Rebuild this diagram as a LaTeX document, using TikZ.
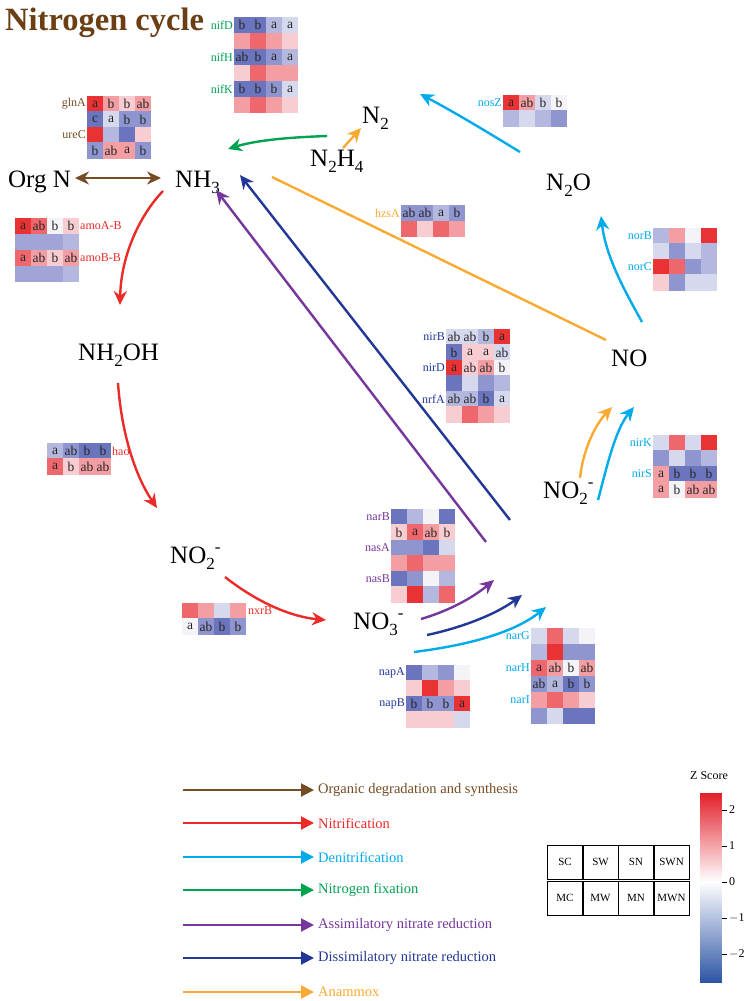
\documentclass[tikz,border=0pt]{standalone}
\usepackage{fontspec}
\setmainfont{Liberation Serif}
\usetikzlibrary{arrows.meta}
\definecolor{cBrown}{RGB}{117,76,36}
\definecolor{cTitle}{RGB}{107,62,20}
\definecolor{cRed}{RGB}{236,42,40}
\definecolor{cCyan}{RGB}{0,171,236}
\definecolor{cGreen}{RGB}{0,163,80}
\definecolor{cPurple}{RGB}{117,55,155}
\definecolor{cNavy}{RGB}{35,55,150}
\definecolor{cOrange}{RGB}{250,170,50}
\definecolor{hRa}{RGB}{233,50,52}
\definecolor{hRb}{RGB}{238,103,108}
\definecolor{hRc}{RGB}{243,158,163}
\definecolor{hRd}{RGB}{248,205,210}
\definecolor{hW}{RGB}{244,243,248}
\definecolor{hBd}{RGB}{214,216,237}
\definecolor{hBc}{RGB}{180,184,222}
\definecolor{hBb}{RGB}{143,149,207}
\definecolor{hBa}{RGB}{106,117,190}
\definecolor{hL}{RGB}{160,164,214}
\definecolor{cbRed}{RGB}{226,30,40}
\definecolor{cbBlue}{RGB}{45,85,165}
\newcommand\subx[1]{\raisebox{-0.25em}{\fontsize{17}{17}\selectfont #1}}
\newcommand\supx[1]{\raisebox{0.42em}{\fontsize{17}{17}\selectfont #1}}
\newcommand\hmrow[4]{\foreach \hmc/\hmt [count=\i] in {#4}{\node[cellbox,fill=\hmc] (#1\i) at ({#2+(\i-0.5)*16},{#3+8}) {\hmt};}}
\tikzset{
  cellbox/.style={inner sep=0pt, minimum width=16.4pt, minimum height=16.4pt, font=\fontsize{13.5}{13.5}\selectfont, text=black!85},
  genelab/.style={font=\fontsize{12}{12}\selectfont, inner sep=1pt},
  chem/.style={font=\fontsize{25}{27}\selectfont, inner sep=0pt, anchor=base west},
  flow/.style={line width=2.4pt, -{Stealth[length=14pt,width=13pt]}},
  legarrow/.style={line width=2pt, -{Triangle[length=13pt,width=13pt]}},
  legtext/.style={font=\fontsize{14.5}{15}\selectfont, inner sep=0pt, anchor=west},
  gridcell/.style={draw=black, line width=0.6pt, minimum width=35pt, minimum height=34pt, inner sep=0pt, font=\fontsize{11}{11}\selectfont},
}
\begin{document}
\begin{tikzpicture}[x=1pt,y=-1pt]
\useasboundingbox (0,0) rectangle (752,1001);
\fill[white] (0,0) rectangle (752,1001);

% title
\node[anchor=base west, inner sep=0pt, text=cTitle, font=\fontsize{32.5}{34}\selectfont\bfseries] (title) at (5,30) {Nitrogen cycle};

% compounds
\node[chem] (orgn) at (8,187) {Org N};
\node[chem] (nh3) at (175,187) {NH\subx{3}};
\node[chem] (n2) at (362,123) {N\subx{2}};
\node[chem] (n2h4) at (310,166) {N\subx{2}H\subx{4}};
\node[chem] (n2o) at (546,190) {N\subx{2}O};
\node[chem] (nh2oh) at (78,360) {NH\subx{2}OH};
\node[chem] (no) at (611,366) {NO};
\node[chem] (no2l) at (170,563) {NO\subx{2}\supx{-}};
\node[chem] (no3) at (353,629) {NO\subx{3}\supx{-}};
\node[chem] (no2r) at (543,498) {NO\subx{2}\supx{-}};

% connector end points
\coordinate (bA) at (75,178);   \coordinate (bB) at (161,178);
\coordinate (gA) at (327,136);  \coordinate (gB) at (228,149);
\coordinate (oA) at (343,148);  \coordinate (oB) at (361,128);
\coordinate (oC) at (272,177);  \coordinate (oD) at (606,340);
\coordinate (dA) at (510,520);  \coordinate (dB) at (240,175);
\coordinate (pA) at (486,542);  \coordinate (pB) at (216,190);
\coordinate (rA) at (163,191);  \coordinate (rB) at (120,305);
\coordinate (rC) at (118,383);  \coordinate (rD) at (157,508);
\coordinate (rE) at (225,577);  \coordinate (rF) at (326,620);
\coordinate (tA) at (421,619);  \coordinate (tB) at (494,580);
\coordinate (uA) at (427,635);  \coordinate (uB) at (522,595);
\coordinate (vA) at (414,652);  \coordinate (vB) at (546,607);
\coordinate (wA) at (580,478);  \coordinate (wB) at (612,407);
\coordinate (xA) at (598,500);  \coordinate (xB) at (634,407);
\coordinate (yA) at (642,322);  \coordinate (yB) at (601,216);
\coordinate (zA) at (520,152);  \coordinate (zB) at (420,94);

% connectors
\draw[cBrown, line width=2.4pt, {Stealth[length=14pt,width=13pt]}-{Stealth[length=14pt,width=13pt]}] (bA) -- (bB);
\draw[flow, cGreen] (gA) .. controls (300,137) and (260,139) .. (gB);
\draw[flow, cOrange] (oA) -- (oB);
\draw[cOrange, line width=2.4pt] (oC) -- (oD);
\draw[flow, cNavy] (dA) -- (dB);
\draw[flow, cPurple] (pA) -- (pB);
\draw[flow, cRed] (rA) .. controls (140,215) and (121,255) .. (rB);
\draw[flow, cRed] (rC) .. controls (122,440) and (138,480) .. (rD);
\draw[flow, cRed] (rE) .. controls (258,603) and (292,617) .. (rF);
\draw[flow, cPurple] (tA) .. controls (445,612) and (470,600) .. (tB);
\draw[flow, cNavy] (uA) .. controls (460,628) and (495,615) .. (uB);
\draw[flow, cCyan] (vA) .. controls (470,645) and (515,632) .. (vB);
\draw[flow, cOrange] (wA) .. controls (583,450) and (595,425) .. (wB);
\draw[flow, cCyan] (xA) .. controls (606,470) and (615,430) .. (xB);
\draw[flow, cCyan] (yA) .. controls (626,293) and (606,258) .. (yB);
\draw[flow, cCyan] (zA) .. controls (497,138) and (458,114) .. (zB);

% heatmaps
% nif
\hmrow{nifa}{234}{17}{hBa/b,hBa/b,hBc/a,hBd/a}
\hmrow{nifb}{234}{33}{hRc/{},hRb/{},hRc/{},hRd/{}}
\hmrow{nifc}{234}{49}{hBa/ab,hBa/b,hBb/a,hBc/a}
\hmrow{nifd}{234}{65}{hRd/{},hRb/{},hRc/{},hRc/{}}
\hmrow{nife}{234}{81}{hBa/b,hBa/b,hBb/b,hBd/a}
\hmrow{niff}{234}{97}{hRc/{},hRb/{},hRc/{},hRd/{}}
\node[genelab, anchor=east, text=cGreen] (lnifD) at (234,25) {nifD};
\node[genelab, anchor=east, text=cGreen] (lnifH) at (234,57) {nifH};
\node[genelab, anchor=east, text=cGreen] (lnifK) at (234,89) {nifK};
% glnA ureC
\hmrow{glna}{87}{96}{hRa/a,hRc/b,hRd/b,hRc/ab}
\hmrow{glnb}{87}{111.5}{hBa/c,hBd/a,hBb/b,hBb/b}
\hmrow{glnc}{87}{127}{hRa/{},hBc/{},hBa/{},hRd/{}}
\hmrow{glnd}{87}{142.5}{hBb/b,hRc/ab,hRc/a,hBb/b}
\node[genelab, anchor=east, text=cBrown] (lglnA) at (87,104) {glnA};
\node[genelab, anchor=east, text=cBrown] (lureC) at (87,135) {ureC};
% amo
\hmrow{amoa}{15}{218}{hRa/a,hRb/ab,hW/b,hRd/b}
\hmrow{amob}{15}{234}{hL/{},hL/{},hL/{},hBc/{}}
\hmrow{amoc}{15}{250}{hRb/a,hRc/ab,hRd/b,hRc/ab}
\hmrow{amod}{15}{266}{hL/{},hL/{},hL/{},hBc/{}}
\node[genelab, anchor=west, text=cRed] (lamoA) at (79,226) {amoA-B};
\node[genelab, anchor=west, text=cRed] (lamoB) at (79,258) {amoB-B};
% hao
\hmrow{haoa}{47}{443}{hBc/a,hBb/ab,hBa/b,hBa/b}
\hmrow{haob}{47}{458.5}{hRb/a,hRd/b,hRc/ab,hRc/ab}
\node[genelab, anchor=west, text=cRed] (lhao) at (111,451) {hao};
% nosZ
\hmrow{nosa}{503}{95}{hRa/a,hRc/ab,hBd/b,hW/b}
\hmrow{nosb}{503}{110.5}{hBc/{},hBd/{},hBc/{},hBb/{}}
\node[genelab, anchor=east, text=cCyan] (lnosZ) at (503,103) {nosZ};
% hzsA
\hmrow{hzsa}{401}{205}{hBb/ab,hBb/ab,hBc/a,hBb/b}
\hmrow{hzsb}{401}{221}{hRb/{},hRd/{},hRb/{},hRc/{}}
\node[genelab, anchor=east, text=cOrange] (lhzsA) at (401,213) {hzsA};
% nor
\hmrow{nora}{653}{228}{hBc/{},hRc/{},hW/{},hRa/{}}
\hmrow{norb}{653}{243.5}{hBd/{},hBb/{},hBd/{},hBc/{}}
\hmrow{norc}{653}{259}{hRa/{},hRb/{},hBb/{},hBc/{}}
\hmrow{nord}{653}{274.5}{hRd/{},hBb/{},hBd/{},hBd/{}}
\node[genelab, anchor=east, text=cCyan] (lnorB) at (653,236) {norB};
\node[genelab, anchor=east, text=cCyan] (lnorC) at (653,267) {norC};
% nirB nirD nrfA
\hmrow{nira}{446}{329}{hBd/ab,hBd/ab,hBc/b,hRa/a}
\hmrow{nirb}{446}{344.5}{hBa/b,hRd/a,hRd/a,hBd/ab}
\hmrow{nirc}{446}{360}{hRa/a,hRd/ab,hRc/ab,hW/b}
\hmrow{nird}{446}{375.5}{hBa/{},hBd/{},hBb/{},hBc/{}}
\hmrow{nire}{446}{391}{hBc/ab,hBc/ab,hBa/b,hBd/a}
\hmrow{nirf}{446}{406.5}{hRd/{},hRb/{},hRc/{},hRd/{}}
\node[genelab, anchor=east, text=cNavy] (lnirB) at (446,337) {nirB};
\node[genelab, anchor=east, text=cNavy] (lnirD) at (446,368) {nirD};
\node[genelab, anchor=east, text=cNavy] (lnrfA) at (446,399) {nrfA};
% nirK nirS
\hmrow{nrka}{653}{435}{hBd/{},hRb/{},hBd/{},hRa/{}}
\hmrow{nrkb}{653}{450.5}{hBb/{},hBd/{},hBb/{},hBc/{}}
\hmrow{nrkc}{653}{466}{hRc/a,hBa/b,hBa/b,hBa/b}
\hmrow{nrkd}{653}{481.5}{hRc/a,hW/b,hRc/ab,hRc/ab}
\node[genelab, anchor=east, text=cCyan] (lnirK) at (653,443) {nirK};
\node[genelab, anchor=east, text=cCyan] (lnirS) at (653,474) {nirS};
% narB nasA nasB
\hmrow{nasa}{391}{509}{hBa/{},hBc/{},hW/{},hBa/{}}
\hmrow{nasb}{391}{524.5}{hRd/b,hRb/a,hRc/ab,hRd/b}
\hmrow{nasc}{391}{540}{hBb/{},hBb/{},hBa/{},hBd/{}}
\hmrow{nasd}{391}{555.5}{hRc/{},hRb/{},hRc/{},hRc/{}}
\hmrow{nase}{391}{571}{hBa/{},hBb/{},hW/{},hBc/{}}
\hmrow{nasf}{391}{586.5}{hRd/{},hRa/{},hBc/{},hRb/{}}
\node[genelab, anchor=east, text=cPurple] (lnarB) at (391,517) {narB};
\node[genelab, anchor=east, text=cPurple] (lnasA) at (391,548) {nasA};
\node[genelab, anchor=east, text=cPurple] (lnasB) at (391,579) {nasB};
% nxrB
\hmrow{nxra}{182}{603}{hRb/{},hRc/{},hBd/{},hRc/{}}
\hmrow{nxrb}{182}{618.5}{hW/a,hBb/ab,hBa/b,hBb/b}
\node[genelab, anchor=west, text=cRed] (lnxrB) at (247,611) {nxrB};
% napA napB
\hmrow{napa}{406}{665}{hBa/{},hBc/{},hBb/{},hW/{}}
\hmrow{napb}{406}{680.5}{hRd/{},hRa/{},hRc/{},hRd/{}}
\hmrow{napc}{406}{696}{hBa/b,hBb/b,hBb/b,hRa/a}
\hmrow{napd}{406}{711.5}{hRd/{},hRd/{},hRd/{},hBd/{}}
\node[genelab, anchor=east, text=cNavy] (lnapA) at (406,673) {napA};
\node[genelab, anchor=east, text=cNavy] (lnapB) at (406,704) {napB};
% narG narH narI
\hmrow{nga}{531}{628}{hBd/{},hRb/{},hBd/{},hW/{}}
\hmrow{ngb}{531}{644}{hBc/{},hRa/{},hBb/{},hBb/{}}
\hmrow{ngc}{531}{660}{hRb/a,hRc/ab,hW/b,hRc/ab}
\hmrow{ngd}{531}{676}{hBb/ab,hBc/a,hBa/b,hBb/b}
\hmrow{nge}{531}{692}{hRc/{},hRb/{},hRc/{},hRd/{}}
\hmrow{ngf}{531}{708}{hBb/{},hBd/{},hBa/{},hBa/{}}
\node[genelab, anchor=east, text=cCyan] (lnarG) at (531,636) {narG};
\node[genelab, anchor=east, text=cCyan] (lnarH) at (531,668) {narH};
\node[genelab, anchor=east, text=cCyan] (lnarI) at (531,700) {narI};

% legend
\coordinate (ls1) at (183,790); \node[legtext, text=cBrown] (lt1) at (318,790) {Organic degradation and synthesis};
\coordinate (ls2) at (183,823); \node[legtext, text=cRed] (lt2) at (318,823) {Nitrification};
\coordinate (ls3) at (183,857); \node[legtext, text=cCyan] (lt3) at (318,857) {Denitrification};
\coordinate (ls4) at (183,890); \node[legtext, text=cGreen] (lt4) at (318,890) {Nitrogen fixation};
\coordinate (ls5) at (183,925); \node[legtext, text=cPurple] (lt5) at (318,925) {Assimilatory nitrate reduction};
\coordinate (ls6) at (183,958); \node[legtext, text=cNavy] (lt6) at (318,958) {Dissimilatory nitrate reduction};
\coordinate (ls7) at (183,992); \node[legtext, text=cOrange] (lt7) at (318,992) {Anammox};
\draw[legarrow, cBrown] (ls1) -- ([xshift=-4pt]lt1.west);
\draw[legarrow, cRed] (ls2) -- ([xshift=-4pt]lt2.west);
\draw[legarrow, cCyan] (ls3) -- ([xshift=-4pt]lt3.west);
\draw[legarrow, cGreen] (ls4) -- ([xshift=-4pt]lt4.west);
\draw[legarrow, cPurple] (ls5) -- ([xshift=-4pt]lt5.west);
\draw[legarrow, cNavy] (ls6) -- ([xshift=-4pt]lt6.west);
\draw[legarrow, cOrange] (ls7) -- ([xshift=-4pt]lt7.west);

% colour bar
\node[font=\fontsize{12}{12}\selectfont, inner sep=0pt] (zs) at (709,776) {Z Score};
\foreach \k in {0,...,94}{
  \pgfmathsetmacro\yy{793+2*\k}
  \pgfmathsetmacro\vv{(882-(\yy+1))/36}
  \pgfmathsetmacro\pp{\vv>0 ? min(100,\vv/2.47*100) : min(100,-\vv/2.8*100)}
  \ifdim\vv pt>0pt \def\ccol{cbRed}\else\def\ccol{cbBlue}\fi
  \fill[\ccol!\pp!white] (700,\yy) rectangle (722,\yy+2.4);
}
\foreach \v/\lab in {2/2,1/1,0/0,-1/$-$1,-2/$-$2}{
  \draw[line width=0.5pt] (722,{882-36*\v}) -- (727,{882-36*\v});
  \node[anchor=west, inner sep=0pt, font=\fontsize{12}{12}\selectfont] (tk\v) at (729,{882-36*\v}) {\lab};
}

% site grid
\node[gridcell] (gSC) at (565,862) {SC};
\node[gridcell] (gSW) at (600.5,862) {SW};
\node[gridcell] (gSN) at (636,862) {SN};
\node[gridcell] (gSWN) at (671.5,862) {SWN};
\node[gridcell] (gMC) at (565,898) {MC};
\node[gridcell] (gMW) at (600.5,898) {MW};
\node[gridcell] (gMN) at (636,898) {MN};
\node[gridcell] (gMWN) at (671.5,898) {MWN};
\end{tikzpicture}
\end{document}
